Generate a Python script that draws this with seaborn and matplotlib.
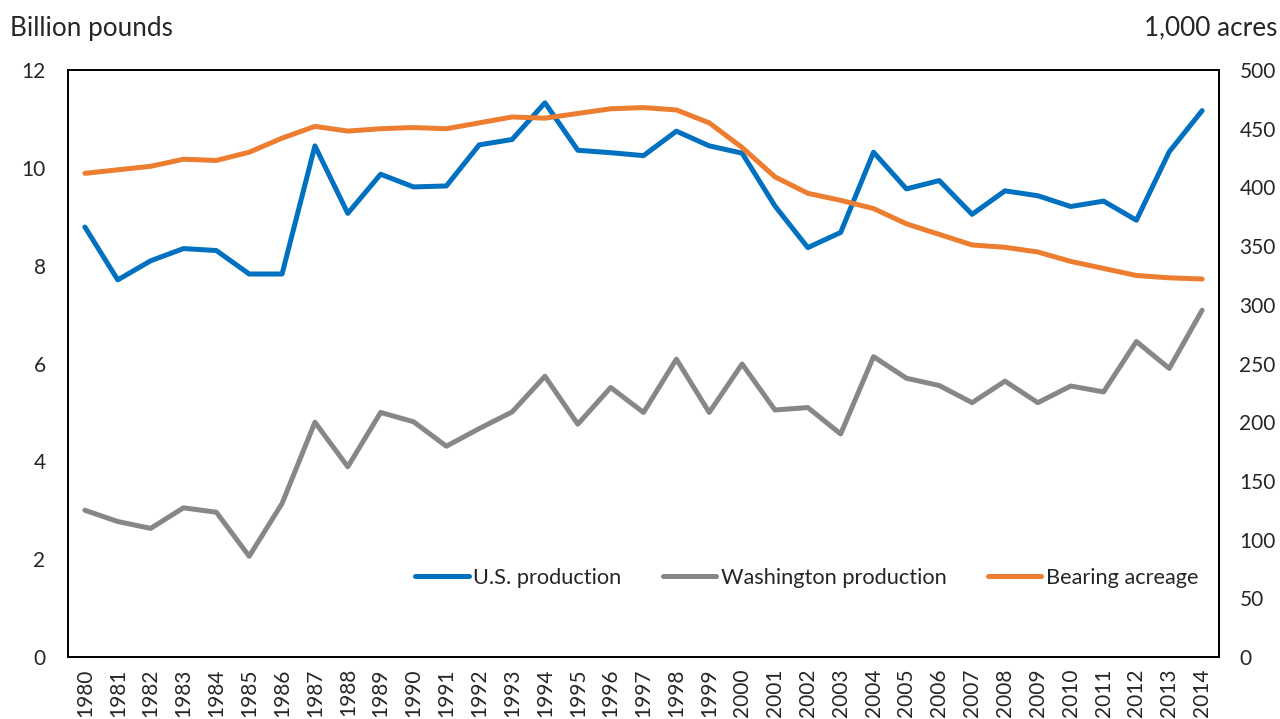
import matplotlib
matplotlib.use("Agg")
import matplotlib.pyplot as plt
import pandas as pd
import seaborn as sns

years = list(range(1980, 2015))

us_production = [
    8.79, 7.71, 8.10, 8.35, 8.31, 7.83, 7.83, 10.45, 9.07, 9.87,
    9.61, 9.63, 10.47, 10.58, 11.33, 10.36, 10.31, 10.25, 10.75, 10.45,
    10.30, 9.22, 8.37, 8.68, 10.32, 9.57, 9.74, 9.05, 9.53, 9.43,
    9.21, 9.32, 8.93, 10.33, 11.17,
]
wa_production = [
    3.00, 2.77, 2.63, 3.05, 2.96, 2.06, 3.14, 4.80, 3.89, 5.00,
    4.81, 4.31, 4.67, 5.01, 5.74, 4.76, 5.51, 5.00, 6.09, 5.00,
    5.99, 5.05, 5.10, 4.56, 6.14, 5.70, 5.55, 5.20, 5.64, 5.20,
    5.54, 5.42, 6.45, 5.90, 7.09,
]
bearing_acreage = [
    412, 415, 418, 424, 423, 430, 442, 452, 448, 450,
    451, 450, 455, 460, 459, 463, 467, 468, 466, 455,
    434, 409, 395, 389, 382, 369, 360, 351, 349, 345,
    337, 331, 325, 323, 322,
]

left_ticks = [0, 2, 4, 6, 8, 10, 12]
right_ticks = [0, 50, 100, 150, 200, 250, 300, 350, 400, 450, 500]

df = pd.DataFrame({
    "year": years,
    "us": us_production,
    "wa": wa_production,
    "acres": bearing_acreage,
})

sns.set_theme(style="white")
plt.rcParams["font.family"] = ["Lato", "DejaVu Sans"]

BLUE = "#0070C0"
GRAY = "#878787"
ORANGE = "#ED7D31"
lw = 3.6

fig = plt.figure(figsize=(12.8, 7.19), dpi=100)
ax = fig.add_axes([0.0535, 0.0862, 0.8985, 0.8164])
ax2 = ax.twinx()

sns.lineplot(data=df, x="year", y="us", color=BLUE, lw=lw, ax=ax,
             label="U.S. production", legend=False, solid_capstyle="round")
sns.lineplot(data=df, x="year", y="wa", color=GRAY, lw=lw, ax=ax,
             label="Washington production", legend=False, solid_capstyle="round")
sns.lineplot(data=df, x="year", y="acres", color=ORANGE, lw=lw, ax=ax2,
             label="Bearing acreage", legend=False, solid_capstyle="round")

ax.set_xlim(1979.5, 2014.5)
ax.set_ylim(0, 12)
ax2.set_ylim(0, 500)
ax.set_xticks(years)
ax.set_xticklabels([str(y) for y in years], rotation=90)
ax.set_yticks(left_ticks)
ax2.set_yticks(right_ticks)
ax.set_xlabel("")
ax.set_ylabel("")
ax2.set_ylabel("")

fs = 15
ax.tick_params(axis="x", labelsize=fs, length=0, pad=8)
ax.tick_params(axis="y", labelsize=fs, length=0, pad=16.5)
ax2.tick_params(axis="y", labelsize=fs, length=0, pad=15)

for a in (ax, ax2):
    for s in a.spines.values():
        s.set_color("black")
        s.set_linewidth(1.3)
        s.set_visible(True)

fig.text(0.008, 0.961, "Billion pounds", fontsize=18.8, ha="left", va="center")
fig.text(0.998, 0.961, "1,000 acres", fontsize=18.8, ha="right", va="center")

h1, l1 = ax.get_legend_handles_labels()
h2, l2 = ax2.get_legend_handles_labels()
ax2.legend(h1 + h2, l1 + l2, loc="center", bbox_to_anchor=(0.642, 0.1346),
           ncol=3, frameon=False, fontsize=15.7, handlelength=2.45,
           handletextpad=0.2, columnspacing=1.9)

fig.savefig("out.png", dpi=100)
